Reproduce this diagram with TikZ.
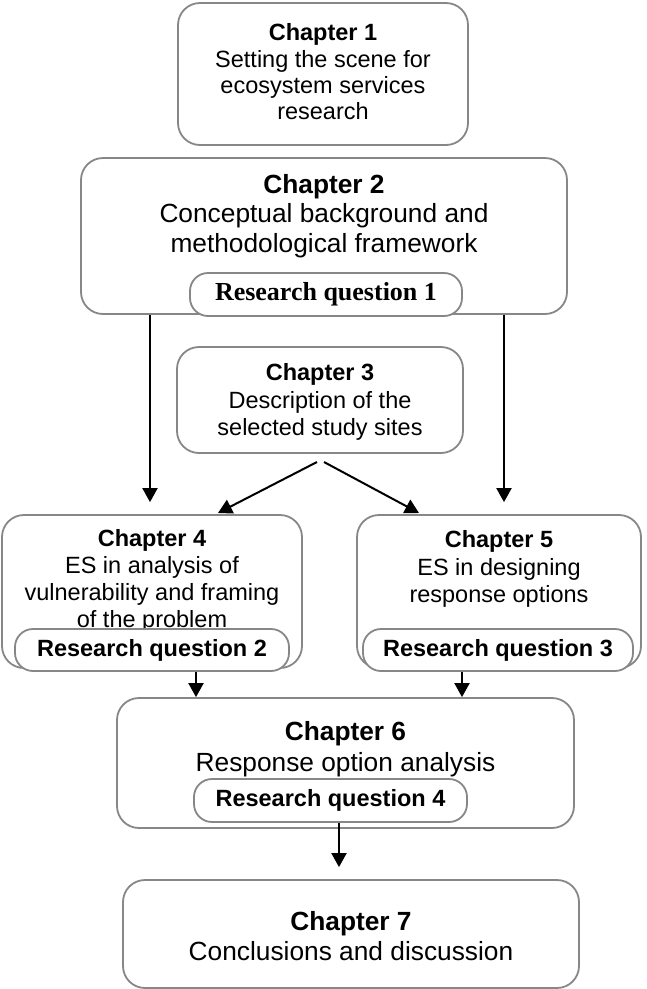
\documentclass[tikz,border=0pt]{standalone}
\usepackage{fontspec}
\setmainfont{Liberation Sans}
\newfontfamily\rqserif{Liberation Serif}
\usetikzlibrary{arrows.meta}
\definecolor{boxgray}{RGB}{135,135,135}
\tikzset{
  chbox/.style={draw=boxgray, line width=1.8pt, rounded corners=22pt, fill=white, inner sep=0pt},
  rqbox/.style={draw=boxgray, line width=1.8pt, rounded corners=18pt, fill=white, inner sep=0pt},
  smalltxt/.style={align=center, inner sep=0pt, font=\fontsize{23.5}{27.2}\selectfont},
  bigtxt/.style={align=center, inner sep=0pt, font=\fontsize{26.3}{29.5}\selectfont},
  arr/.style={line width=2pt, -{Triangle[length=14pt,width=15pt]}}
}
\begin{document}
\begin{tikzpicture}[x=1pt,y=-1pt]
\useasboundingbox (0,0) rectangle (646,989);
% Chapter boxes
\node[chbox, minimum width=290pt, minimum height=142pt] (ch1) at (323,74) {};
\node[smalltxt, font=\fontsize{23.5}{26.3}\selectfont] (ch1t) at (323,72) {\textbf{Chapter 1}\\Setting the scene for\\ecosystem services\\research};

\node[chbox, minimum width=486pt, minimum height=156pt] (ch2) at (324,236) {};
\node[bigtxt] (ch2t) at (324,216) {\textbf{Chapter 2}\\Conceptual background and\\methodological framework};
\node[rqbox, minimum width=272pt, minimum height=43pt] (rq1) at (326,294.5) {\rqserif\fontsize{26}{30}\selectfont\textbf{Research question 1}};

\node[chbox, minimum width=286pt, minimum height=106pt] (ch3) at (320,400) {};
\node[smalltxt] (ch3t) at (320,402) {\textbf{Chapter 3}\\Description of the\\selected study sites};

\node[chbox, minimum width=300pt, minimum height=153pt] (ch4) at (152,591.5) {};
\node[smalltxt, font=\fontsize{23.5}{27}\selectfont] (ch4t) at (152,581) {\textbf{Chapter 4}\\ES in analysis of\\vulnerability and framing\\of the problem};
\node[rqbox, minimum width=274pt, minimum height=42pt] (rq2) at (152,650) {\fontsize{23.5}{27}\selectfont\textbf{Research question 2}};

\node[chbox, minimum width=284pt, minimum height=153pt] (ch5) at (499,591.5) {};
\node[smalltxt] (ch5t) at (499,569) {\textbf{Chapter 5}\\ES in designing\\response options};
\node[rqbox, minimum width=270pt, minimum height=42pt] (rq3) at (498,650) {\fontsize{23.5}{27}\selectfont\textbf{Research question 3}};

\node[chbox, minimum width=457pt, minimum height=130pt] (ch6) at (345.5,763) {};
\node[bigtxt, font=\fontsize{26.3}{30.5}\selectfont] (ch6t) at (345.5,749) {\textbf{Chapter 6}\\Response option analysis};
\node[rqbox, minimum width=273pt, minimum height=43pt] (rq4) at (330.5,800.5) {\fontsize{23.5}{27}\selectfont\textbf{Research question 4}};

\node[chbox, minimum width=456pt, minimum height=108pt] (ch7) at (351,934) {};
\node[bigtxt, font=\fontsize{26.3}{30.5}\selectfont] (ch7t) at (351,936) {\textbf{Chapter 7}\\Conclusions and discussion};

% helper coordinates
\coordinate (xl) at (150,0);
\coordinate (xr) at (504,0);
\coordinate (splitl) at (317,462);
\coordinate (splitr) at (324,462);
\coordinate (in4) at (218,513);
\coordinate (in5) at (419,513);
\coordinate (x6l) at (196,0);
\coordinate (x6r) at (462,0);
\coordinate (x7) at (339,0);

% connectors
\draw[arr, shorten >=12pt] (ch2.south -| xl) -- (ch4.north -| xl);
\draw[arr, shorten >=12pt] (ch2.south -| xr) -- (ch5.north -| xr);
\draw[arr] (splitl) -- (in4);
\draw[arr] (splitr) -- (in5);
\draw[arr] (rq2.south -| x6l) -- (ch6.north -| x6l);
\draw[arr] (rq3.south -| x6r) -- (ch6.north -| x6r);
\draw[arr, shorten >=12pt] (rq4.south -| x7) -- (ch7.north -| x7);
\end{tikzpicture}
\end{document}
